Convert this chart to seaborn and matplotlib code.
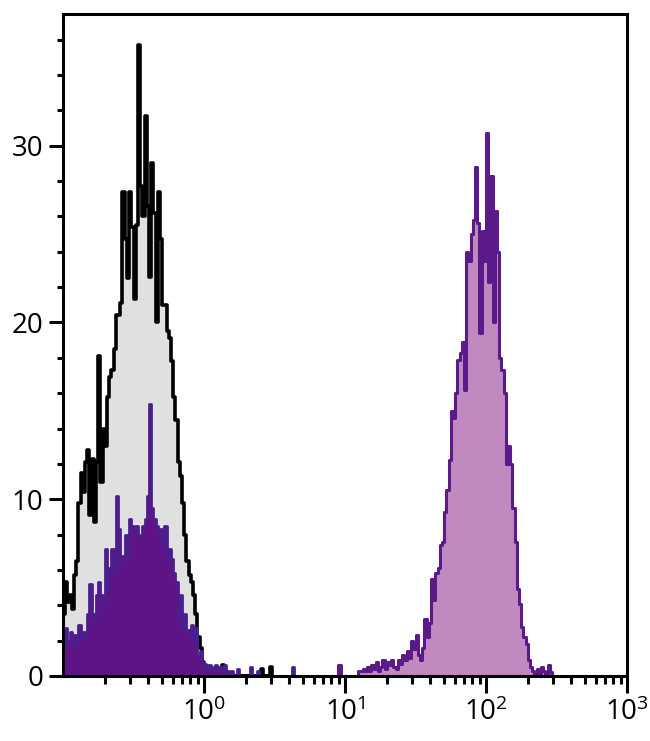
import numpy as np
import pandas as pd
import seaborn as sns
import matplotlib.pyplot as plt
from matplotlib.ticker import MultipleLocator, LogLocator, NullFormatter

# channels: 64 per decade, log10 start of each series
chan_per_dec = 64

# isotype control (grey fill, black outline)
iso_start = -64
iso_counts = [3.5, 5.3, 4.2, 4.6, 3.8, 5.7, 6.5, 9.8, 11.5, 10.4, 12.1, 12.8, 9.1, 12.3, 8.7, 12.1,
              18.1, 11.0, 14.0, 13.0, 15.8, 16.9, 17.3, 18.5, 20.4, 20.4, 21.1, 27.4, 24.7, 22.5, 27.4, 25.4,
              21.3, 25.5, 35.7, 27.7, 26.0, 31.7, 26.6, 22.6, 29.0, 26.2, 20.0, 27.4, 24.7, 21.0, 21.0, 19.5,
              19.1, 17.8, 15.8, 14.5, 12.1, 11.3, 9.8, 8.0, 6.5, 5.7, 5.3, 4.6, 3.5, 2.2, 1.6, 0.8,
              0.4, 0.2, 0.5, 0.2, 0, 0.3, 0, 0, 0.6, 0, 0.2, 0, 0, 0, 0, 0,
              0, 0, 0, 0, 0, 0, 0, 0, 0, 0, 0.4, 0, 0, 0, 0.5]

# unstained cells (dark purple)
neg_start = -64
neg_counts = [1.4, 2.7, 2.0, 2.5, 1.6, 2.3, 1.9, 2.9, 2.0, 2.5, 2.2, 3.5, 5.2, 3.5, 3.1, 4.6,
              5.3, 4.6, 3.8, 7.2, 4.8, 6.1, 7.2, 5.9, 10.2, 8.3, 6.1, 6.8, 8.0, 6.8, 8.9, 8.5,
              8.3, 8.5, 8.0, 7.8, 8.5, 8.9, 10.2, 15.4, 9.5, 8.9, 8.5, 8.0, 8.3, 7.2, 8.5, 6.5,
              7.2, 6.6, 5.8, 5.3, 3.3, 4.6, 2.7, 3.5, 2.6, 2.2, 2.9, 1.8, 2.7, 1.2, 1.4, 0.8,
              0.7, 0.3, 0.6, 0.5, 0.3, 0.6, 0.3, 0.5, 0.2, 0.6, 0.3, 0, 0.3, 0, 0, 0.4,
              0, 0, 0, 0, 0, 0.5, 0, 0, 0.3, 0, 0, 0, 0, 0, 0, 0,
              0, 0, 0, 0, 0, 0, 0, 0, 0.5]

# stained cells (light purple)
pos_start = 58
pos_counts = [0, 0, 0, 0.6, 0, 0, 0, 0, 0, 0, 0, 0, 0.3, 0.3, 0.4, 0.3,
              0.5, 0.3, 0.6, 0.4, 0.8, 0.3, 0.5, 0.9, 0.4, 0.8, 0.6, 0.9, 0.5, 0.4, 0.9, 0.7,
              1.2, 0.9, 1.4, 1.0, 2.0, 1.5, 2.3, 1.2, 0.9, 1.6, 3.2, 2.2, 3.0, 5.5, 4.3, 5.8,
              6.1, 7.4, 7.6, 9.3, 10.5, 12.2, 15.0, 14.6, 16.0, 17.9, 18.3, 18.9, 16.2, 24.0, 23.5, 25.0,
              25.8, 28.8, 25.6, 19.4, 25.2, 23.5, 30.7, 22.3, 28.3, 20.0, 26.3, 24.0, 18.0, 17.3, 16.0, 12.0,
              13.0, 12.0, 9.5, 7.6, 4.9, 4.1, 2.8, 2.2, 1.8, 0.9, 0.5, 0.3, 0, 0.4, 0, 0.5,
              0.3, 0, 0.6, 0.2]

xtick_vals = [1, 10, 100, 1000]
xtick_labels = ['$\\mathdefault{10^{0}}$', '$\\mathdefault{10^{1}}$',
                '$\\mathdefault{10^{2}}$', '$\\mathdefault{10^{3}}$']
ytick_vals = [0, 10, 20, 30]
ytick_labels = ['0', '10', '20', '30']

sns.set_style('ticks')
plt.rcParams['font.family'] = ['Open Sans', 'DejaVu Sans']
plt.rcParams['mathtext.fontset'] = 'custom'
plt.rcParams['mathtext.rm'] = 'Open Sans'


def make_df(start, counts):
    n = len(counts)
    chan = np.arange(start, start + n)
    df = pd.DataFrame({'logx': (chan + 0.5) / chan_per_dec, 'count': counts})
    df['x'] = 10 ** df['logx']
    # bin edges in log10 units (seaborn bins in transformed space)
    edges = (np.arange(start, start + n + 1) / chan_per_dec).tolist()
    return df, edges


fig = plt.figure(figsize=(6.5, 7.41), dpi=100)
ax = fig.add_axes([63 / 650, 1 - 676 / 741, 564 / 650, 662 / 741])

series = [
    (iso_start, iso_counts, '#e0e0e0', 'black', 2.6),
    (neg_start, neg_counts, '#5e1486', '#4b1d8e', 2.0),
    (pos_start, pos_counts, '#c08ac0', '#5a1a8a', 2.2),
]
for start, counts, fc, ec, lw in series:
    df, edges = make_df(start, counts)
    sns.histplot(data=df, x='x', weights='count', bins=edges, log_scale=True,
                 element='step', fill=True, color=fc, edgecolor=ec,
                 linewidth=lw, alpha=1, ax=ax)

ax.set_xlim(0.1, 1000)
ax.set_ylim(0, 37.45)
ax.set_xlabel('')
ax.set_ylabel('')

ax.set_xticks(xtick_vals)
ax.set_xticklabels(xtick_labels)
ax.xaxis.set_minor_locator(LogLocator(base=10, subs=np.arange(2, 10), numticks=20))
ax.xaxis.set_minor_formatter(NullFormatter())
ax.set_yticks(ytick_vals)
ax.set_yticklabels(ytick_labels)
ax.yaxis.set_minor_locator(MultipleLocator(2))

for side in ['left', 'right', 'top', 'bottom']:
    ax.spines[side].set_color('black')
    ax.spines[side].set_linewidth(2.2)

ax.tick_params(axis='x', which='major', length=12, width=2.2, color='black',
               labelsize=20, labelcolor='black', pad=4)
ax.tick_params(axis='x', which='minor', length=5.5, width=2.2, color='black')
ax.tick_params(axis='y', which='major', length=10, width=2.2, color='black',
               labelsize=20, labelcolor='black', pad=4)
ax.tick_params(axis='y', which='minor', length=4.5, width=2.2, color='black')

fig.savefig('out.png', dpi=100)
